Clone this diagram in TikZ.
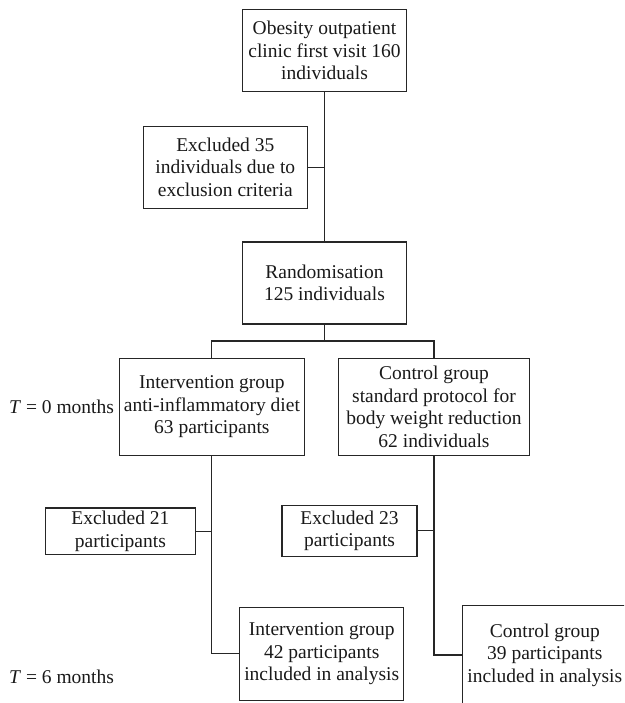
\documentclass[tikz,border=0pt]{standalone}
\usepackage{fontspec}
\setmainfont{Liberation Serif}
\usepackage{xcolor}
\usepackage{tikz}

\begin{document}
\begin{tikzpicture}[x=1pt, y=-1pt,
  box/.style={draw=black!85, line width=1.1pt, align=center, inner sep=0pt,
    font=\fontsize{19.5}{22.5}\selectfont, text=black!90},
  link/.style={draw=black!85, line width=1.1pt},
  time/.style={anchor=west, inner sep=0pt, font=\fontsize{19.5}{22.5}\selectfont, text=black!90}]
  \useasboundingbox (0,0) rectangle (624,703);
  \clip (0,0) rectangle (624,703);

  % boxes
  \node[box, minimum width=164pt, minimum height=82pt] (visit) at (324.5, 50.5)
    {Obesity outpatient\\clinic first visit 160\\individuals};
  \node[box, minimum width=164pt, minimum height=82pt] (excl35) at (225.3, 167.2)
    {Excluded 35\\individuals due to\\exclusion criteria};
  \node[box, minimum width=164pt, minimum height=82pt] (random) at (324.5, 283)
    {Randomisation\\125 individuals};
  \node[box, minimum width=185.7pt, minimum height=97.4pt] (interv) at (211.9, 407)
    {Intervention group\\anti-inflammatory diet\\63 participants};
  \node[box, minimum width=190.6pt, minimum height=96.7pt] (control) at (434, 406.7)
    {Control group\\standard protocol for\\body weight reduction\\62 individuals};
  \node[box, minimum width=149.3pt, minimum height=46.7pt] (excl21) at (120.4, 531.3)
    {Excluded 21\\participants};
  \node[box, minimum width=135pt, minimum height=51pt] (excl23) at (349.5, 530.8)
    {Excluded 23\\participants};
  \node[box, minimum width=164pt, minimum height=93pt] (interv6) at (321.7, 653.8)
    {Intervention group\\42 participants\\included in analysis};
  \node[box, minimum width=164.3pt, minimum height=99.6pt] (control6) at (544.8, 655)
    {Control group\\39 participants\\included in analysis};

  % time points
  \node[time] (t0) at (9, 407.3) {\textit{T} = 0 months};
  \node[time] (t6) at (9, 677) {\textit{T} = 6 months};

  % connectors
  \coordinate (split) at (324.5, 341);
  \draw[link] (visit.south) -- (random.north);
  \draw[link] (excl35.east) -- (excl35.east -| visit.south);
  \draw[link] (random.south) -- (split);
  \draw[link] (interv.north) |- (split) -| (control.north);
  \draw[link] (interv.south) |- (interv6.west);
  \draw[link] (excl21.east) -- (excl21.east -| interv.south);
  \draw[link] (control.south) |- (control6.west);
  \draw[link] (excl23.east) -- (excl23.east -| control.south);
\end{tikzpicture}
\end{document}
